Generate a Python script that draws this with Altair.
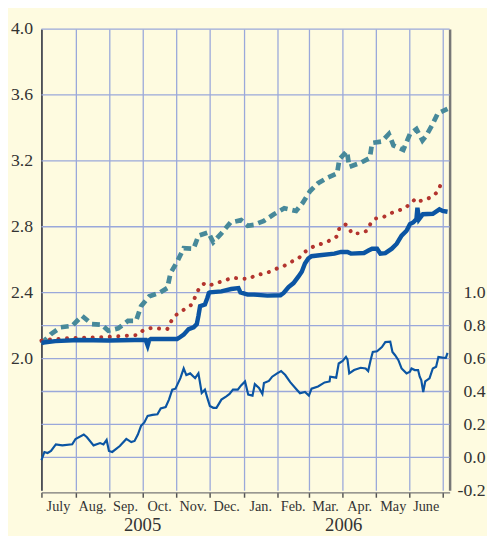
import altair as alt
import pandas as pd

# x positions are days since 1 July 2005
thin_days = [0, 2.7, 5.6, 8.7, 13.1, 19, 28, 31, 38.5, 41.4, 47.4, 53.4, 56.4, 59.3, 61.4, 64.4,
             71.3, 77.2, 81.7, 84.7, 87.7, 90.6, 93.6, 96.6, 101, 105.5, 108.5, 113, 116, 119,
             121.9, 126.4, 129.4, 131.8, 135.3, 139.8, 142.8, 145.8, 148.7, 150.9, 153.2, 156.3,
             159.2, 163.7, 168.2, 171.1, 174.2, 178.6, 181.6, 185.2, 188.1, 192, 194.1, 197.9,
             201, 202.4, 206.9, 209.9, 214.4, 218, 221.8, 226.3, 232.3, 235.2, 239.7, 243.3,
             245.7, 251.6, 257.6, 262.1, 262.7, 268.1, 270.4, 274, 277, 278.4, 280, 284.4,
             290.4, 294.9, 297.2, 299.4, 301.4, 305.3, 309.7, 312.8, 317.3, 319.3, 321.7, 324.7,
             327.6, 332.1, 335.2, 336.6, 339.6, 342.6, 344.1, 345.5, 347.3, 349.1, 353, 356,
             359, 361.1, 364.9, 367.9, 369.4]
thin_vals = [-0.017, 0.033, 0.027, 0.039, 0.079, 0.073, 0.08, 0.112, 0.139, 0.122, 0.073, 0.087,
             0.079, 0.106, 0.039, 0.033, 0.069, 0.112, 0.093, 0.10, 0.139, 0.192, 0.212, 0.252,
             0.258, 0.262, 0.297, 0.306, 0.351, 0.411, 0.417, 0.481, 0.54, 0.5, 0.51, 0.481,
             0.51, 0.391, 0.411, 0.361, 0.312, 0.301, 0.301, 0.351, 0.371, 0.385, 0.411, 0.411,
             0.437, 0.461, 0.381, 0.375, 0.445, 0.421, 0.385, 0.451, 0.464, 0.49, 0.51, 0.524,
             0.5, 0.457, 0.411, 0.389, 0.397, 0.375, 0.417, 0.431, 0.455, 0.461, 0.49, 0.484,
             0.57, 0.586, 0.61, 0.594, 0.51, 0.53, 0.544, 0.54, 0.524, 0.59, 0.64, 0.644, 0.67,
             0.70, 0.703, 0.64, 0.62, 0.59, 0.54, 0.51, 0.52, 0.54, 0.53, 0.53, 0.49, 0.47,
             0.397, 0.461, 0.48, 0.54, 0.55, 0.61, 0.606, 0.604, 0.634]

thick_days = [0, 12.5, 34, 60.8, 84.7, 94.8, 96.6, 98, 99.6, 117.4, 123.4, 125, 129.4, 133.9,
              138.4, 141.3, 142.8, 144.3, 148.7, 150.9, 152.3, 153.2, 163.7, 172.6, 179.2, 181,
              187.6, 193.5, 205.5, 217.4, 220.3, 224.8, 229.3, 233.7, 236.8, 239.7, 242.7, 245.7,
              253.1, 266.5, 272.5, 278.4, 281.5, 293.4, 297.9, 300.8, 305.3, 308.3, 312.8, 318.7,
              323.2, 327.6, 332.1, 335.2, 338.1, 341.1, 342, 343.5, 347, 356, 362, 364.9, 369.4]
thick_vals = [2.096, 2.106, 2.113, 2.11, 2.113, 2.113, 2.08, 2.112, 2.119, 2.119, 2.119, 2.125,
              2.145, 2.179, 2.19, 2.209, 2.259, 2.318, 2.328, 2.368, 2.398, 2.402, 2.408, 2.422,
              2.428, 2.402, 2.388, 2.388, 2.382, 2.384, 2.398, 2.434, 2.458, 2.497, 2.527, 2.577,
              2.607, 2.621, 2.627, 2.637, 2.647, 2.647, 2.637, 2.641, 2.657, 2.667, 2.667, 2.637,
              2.64, 2.667, 2.697, 2.746, 2.776, 2.816, 2.826, 2.846, 2.915, 2.846, 2.876, 2.879,
              2.906, 2.896, 2.891]

red_days = [0, 5.6, 14.6, 28, 57.9, 87.7, 92.1, 99.6, 114.5, 117.4, 120.5, 130.9, 136.9, 141.3,
            144.3, 149.6, 154.7, 166.6, 174.2, 181.6, 189, 195, 201, 207.8, 214.4, 220.9, 227.2,
            233.7, 238.8, 243.6, 250.2, 257, 263.6, 269, 271, 276.1, 280, 282, 289.8, 296.3,
            299.4, 303.8, 310.4, 316.6, 323.2, 330, 335.7, 340.5, 343.5, 349.5, 356, 360.7, 363.4]
red_vals = [2.109, 2.115, 2.119, 2.125, 2.13, 2.143, 2.169, 2.185, 2.179, 2.219, 2.255, 2.303,
            2.328, 2.398, 2.438, 2.461, 2.448, 2.474, 2.491, 2.484, 2.484, 2.507, 2.513, 2.527,
            2.547, 2.563, 2.587, 2.607, 2.643, 2.667, 2.689, 2.7, 2.721, 2.742, 2.792, 2.816,
            2.796, 2.76, 2.76, 2.776, 2.82, 2.85, 2.856, 2.879, 2.896, 2.909, 2.941, 2.971,
            2.955, 2.965, 2.985, 3.015, 3.061]

teal_days = [0, 2.7, 8.7, 17.6, 28, 36.9, 45.9, 54.8, 60.8, 69.8, 78.7, 86.1, 90.6, 98.1, 107.1,
             114.5, 117.4, 123.4, 129.4, 138.4, 142.8, 151.8, 156.3, 163.7, 172, 181.6, 187.6,
             193.5, 202.4, 211.4, 220.9, 231.7, 237.7, 244.2, 251.6, 260.6, 269, 271, 277.9,
             280, 290.4, 298.7, 300.8, 309.7, 316, 320.2, 329.2, 335.2, 341.1, 346.6, 350,
             355.4, 360.5, 369.4]
teal_vals = [2.09, 2.109, 2.149, 2.19, 2.199, 2.259, 2.209, 2.205, 2.169, 2.183, 2.229, 2.229,
             2.318, 2.378, 2.398, 2.428, 2.518, 2.587, 2.67, 2.667, 2.746, 2.766, 2.706, 2.76,
             2.826, 2.84, 2.806, 2.812, 2.836, 2.876, 2.912, 2.896, 2.945, 3.015, 3.064, 3.099,
             3.124, 3.21, 3.258, 3.164, 3.188, 3.218, 3.309, 3.318, 3.363, 3.294, 3.267, 3.363,
             3.393, 3.324, 3.353, 3.417, 3.488, 3.516]

month_starts = [0, 31, 62, 92, 123, 153, 184, 215, 243, 274, 304, 335, 365]
month_mids = [15.5, 46.5, 76.5, 107.5, 138, 168.5, 199.5, 229, 258.5, 289.5, 320, 350]
month_labels = ["July", "Aug.", "Sep.", "Oct.", "Nov.", "Dec.", "Jan.", "Feb.", "Mar.", "Apr.",
                "May", "June"]
year_pos = [92, 275]
year_labels = ["2005", "2006"]

left_ticks = [2.0, 2.4, 2.8, 3.2, 3.6, 4.0]
right_ticks = [-0.2, 0.0, 0.2, 0.4, 0.6, 0.8, 1.0]
hgrid_left = [4.0, 3.6, 3.2, 2.8, 2.4, 2.2, 2.0, 1.8, 1.6, 1.4]

W, H = 415, 469
BG = "#fefbe0"
GRID = "#9aa8da"
BLUE = "#0b55a3"
TEAL = "#47899a"
RED = "#b3342e"
FONT = "Liberation Serif"
LABEL_EXPR = ("datum.value < 0 ? '-' + format(-datum.value, '.1f') "
              ": format(datum.value, '.1f')")

xscale = alt.Scale(domain=[0, 371.3], nice=False, zero=False)
lscale = alt.Scale(domain=[1.2, 4.0], nice=False, zero=False)
rscale = alt.Scale(domain=[-0.2, 2.6], nice=False, zero=False)

xaxis = alt.Axis(values=month_starts, labels=False, title="", grid=True, gridColor=GRID,
                 gridWidth=1.3, tickSize=5, tickColor="#555", tickWidth=1.5,
                 domainColor="#777", domainWidth=1.2, offset=2)
laxis = alt.Axis(values=left_ticks, title="", grid=False, tickSize=0, ticks=False,
                 labelFont=FONT, labelFontSize=18, labelColor="#333", labelPadding=9,
                 domainColor="#333", domainWidth=1.5, labelExpr=LABEL_EXPR)
raxis = alt.Axis(values=right_ticks, title="", orient="right", grid=False, ticks=False,
                 tickSize=0, labelFont=FONT, labelFontSize=18, labelColor="#333",
                 labelAlign="right", labelPadding=36, domainColor="#777", domainWidth=2.5,
                 labelExpr=LABEL_EXPR)

df_thin = pd.DataFrame({"d": thin_days, "v": thin_vals})
df_thick = pd.DataFrame({"d": thick_days, "v": thick_vals})
df_red = pd.DataFrame({"d": red_days, "v": red_vals})
df_teal = pd.DataFrame({"d": teal_days, "v": teal_vals})
df_hg = pd.DataFrame({"g": hgrid_left})
df_m = pd.DataFrame({"d": month_mids, "t": month_labels})
df_y = pd.DataFrame({"d": year_pos, "t": year_labels})

hgrid = alt.Chart(df_hg).mark_rule(color=GRID, strokeWidth=1.3).encode(
    y=alt.Y("g:Q", scale=lscale, axis=laxis)
)

teal = alt.Chart(df_teal).mark_line(color=TEAL, strokeWidth=4.8, strokeDash=[8, 5]).encode(
    x=alt.X("d:Q", scale=xscale, axis=xaxis),
    y=alt.Y("v:Q", scale=lscale, axis=laxis),
)
red = alt.Chart(df_red).mark_line(color=RED, strokeWidth=4, strokeDash=[0.1, 8.6],
                                  strokeCap="round").encode(
    x=alt.X("d:Q", scale=xscale, axis=xaxis),
    y=alt.Y("v:Q", scale=lscale, axis=laxis),
)
thick = alt.Chart(df_thick).mark_line(color=BLUE, strokeWidth=4.5).encode(
    x=alt.X("d:Q", scale=xscale, axis=xaxis),
    y=alt.Y("v:Q", scale=lscale, axis=laxis),
)
mtext = alt.Chart(df_m).mark_text(font=FONT, fontSize=14.5, color="#333",
                                  baseline="alphabetic").encode(
    x=alt.X("d:Q", scale=xscale, axis=xaxis),
    y=alt.value(H + 21),
    text="t:N",
)
ytext = alt.Chart(df_y).mark_text(font=FONT, fontSize=19, color="#333",
                                  baseline="alphabetic").encode(
    x=alt.X("d:Q", scale=xscale, axis=xaxis),
    y=alt.value(H + 41),
    text="t:N",
)

left = alt.layer(hgrid, teal, red, thick, mtext, ytext)

thin = alt.Chart(df_thin).mark_line(color=BLUE, strokeWidth=2.2).encode(
    x=alt.X("d:Q", scale=xscale, axis=xaxis),
    y=alt.Y("v:Q", scale=rscale, axis=raxis),
)

chart = alt.layer(left, thin).resolve_scale(y="independent").properties(
    width=W, height=H,
    autosize=alt.AutoSizeParams(type="none"),
    padding={"left": 34, "top": 17, "right": 38, "bottom": 42},
    background=BG,
).configure_view(stroke=None)

chart.save("out.html", embed_options={"renderer": "svg", "actions": False})
